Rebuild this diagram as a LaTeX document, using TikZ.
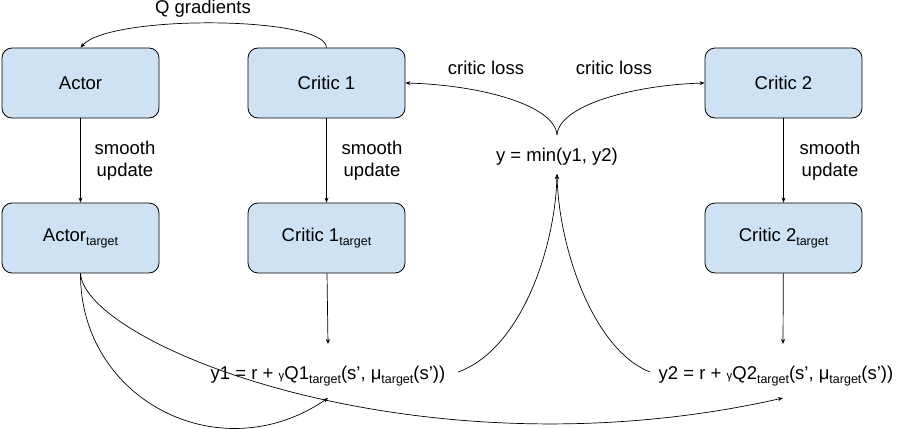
\documentclass[tikz,border=0pt]{standalone}
\usepackage{fontspec}
\setmainfont{Liberation Sans}
\usetikzlibrary{arrows.meta}
\definecolor{boxblue}{HTML}{CFE2F3}
\newcommand{\tsub}[1]{\raisebox{-4pt}{\fontsize{12.5}{12.5}\selectfont #1}}
\newcommand{\gsm}{{\fontsize{11.5}{11.5}\selectfont γ}}

\begin{document}
\begin{tikzpicture}[x=1pt, y=-1pt,
    every node/.style={font=\fontsize{18.5}{22}\selectfont},
    net/.style={draw, line width=0.8pt, fill=boxblue, rounded corners=10pt,
      minimum width=157pt, minimum height=70pt},
    >={Stealth[length=5pt, width=4pt]}, line width=0.7pt]
  \useasboundingbox (0,0) rectangle (901,428);
  \def\rowa{83}
  \def\rowb{238}

  \node[net] (actor)    at (80.5, \rowa)  {Actor};
  \node[net] (critic1)  at (326.5, \rowa) {Critic 1};
  \node[net] (critic2)  at (783.5, \rowa) {Critic 2};

  \node[net] (actort)   at (80.5, \rowb)  {Actor\tsub{target}};
  \node[net] (critic1t) at (326.5, \rowb) {Critic 1\tsub{target}};
  \node[net] (critic2t) at (783.5, \rowb) {Critic 2\tsub{target}};

  \node (ymin) at (557, 157) {y = min(y1, y2)};
  \node (y1) at (328, 376) {y1 = r + \gsm Q1\tsub{target}(s’, μ\tsub{target}(s’))};
  \node (y2) at (776, 376) {y2 = r + \gsm Q2\tsub{target}(s’, μ\tsub{target}(s’))};

  \node (qgrad) at (203, 9) {Q gradients};
  \node (loss1) at (486, 68) {critic loss};
  \node (loss2) at (614, 68) {critic loss};
  \node[align=center] (upa) at (125, 161) {smooth\\update};
  \node[align=center] (upb) at (372, 161) {smooth\\update};
  \node[align=center] (upc) at (830, 161) {smooth\\update};

  \coordinate (cusp)  at (557, 135);
  \coordinate (ytip)  at (557, 174);
  \coordinate (y1in)  at (328, 344);
  \coordinate (y2in)  at (783, 344);
  \coordinate (y1out) at (458, 372);
  \coordinate (y2out) at (650, 372);
  \coordinate (y1bot) at (328, 398);
  \coordinate (y2bot) at (783, 398);

  \draw[->] (actor) -- (actort);
  \draw[->] (critic1) -- (critic1t);
  \draw[->] (critic2) -- (critic2t);

  \draw[->] (critic1.north) .. controls (326, 16) and (110, 14) .. (actor.north);
  \draw[->] (cusp) .. controls (555, 105) and (480, 85) .. (critic1.east);
  \draw[->] (cusp) .. controls (559, 105) and (634, 85) .. (critic2.west);

  \draw[->] (critic1t) -- (y1in);
  \draw[->] (critic2t) -- (y2in);

  \draw[->] (y1out) .. controls (520, 350) and (555, 250) .. (ytip);
  \draw[->] (y2out) .. controls (594, 350) and (559, 250) .. (ytip);

  \draw[->] (actort.south) .. controls (80, 400) and (220, 472) .. (y1bot);
  \draw[->] (actort.south) .. controls (85, 345) and (420, 480) .. (y2bot);
\end{tikzpicture}
\end{document}
